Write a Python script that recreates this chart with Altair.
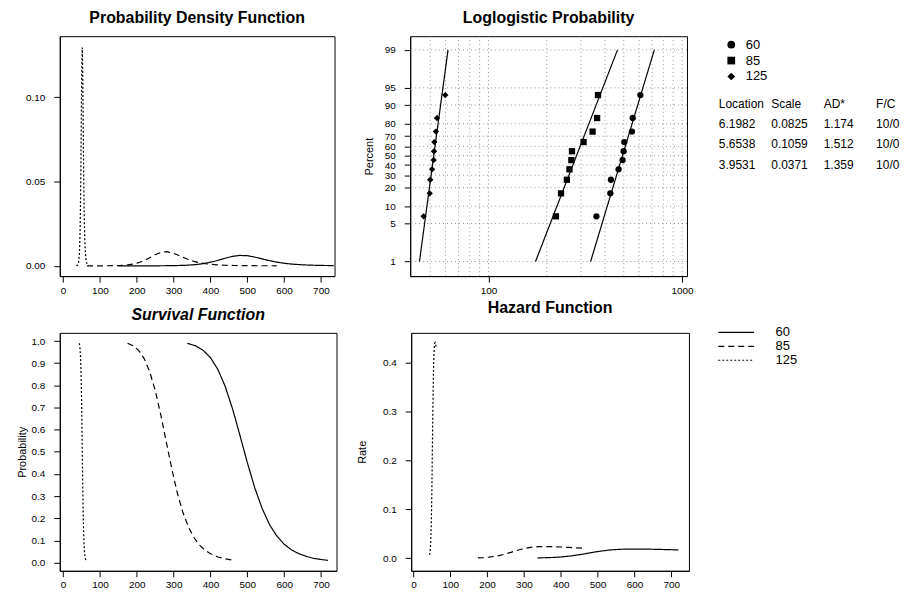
import math
import altair as alt
import pandas as pd

FONT = "Liberation Sans"
groups = ["60", "85", "125"]

# ---------------- Probability density function ----------------
pdf60_x = [150, 200, 250, 300, 337, 360, 380, 400, 420, 440, 460, 480, 500, 520, 540, 560, 580, 600, 620, 640, 660, 680, 700, 735]
pdf60_y = [0, 0, 0, 0.0001, 0.00036, 0.00073, 0.00128, 0.00211, 0.00322, 0.00449, 0.00560, 0.00617, 0.00600, 0.00522,
           0.00415, 0.00309, 0.00220, 0.00153, 0.00105, 0.00072, 0.00049, 0.00034, 0.00023, 0.00013]
pdf85_x = [65, 100, 150, 175, 190, 205, 220, 235, 250, 265, 280, 295, 310, 325, 340, 355, 370, 385, 400, 420, 440, 464, 500, 540, 580]
pdf85_y = [0, 0, 0.00014, 0.00052, 0.00102, 0.00186, 0.00312, 0.00477, 0.00654, 0.00790, 0.00836, 0.00781, 0.00656,
           0.00509, 0.00375, 0.00267, 0.00186, 0.00129, 0.00090, 0.00056, 0.00035, 0.00020, 0.00009, 0.00004, 0.00002]
pdf125_x = [36, 40, 42, 44, 45, 46, 47, 48, 49, 50, 51, 52, 53, 54, 55, 56, 57, 58, 59, 60, 62, 65, 70]
pdf125_y = [0, 0.0005, 0.0019, 0.0063, 0.0111, 0.0191, 0.0316, 0.0501, 0.0742, 0.1006, 0.1218, 0.1295, 0.1206, 0.0997,
            0.0749, 0.0526, 0.0354, 0.0232, 0.0149, 0.0096, 0.0039, 0.0011, 0.0001]

# ---------------- Survival function ----------------
surv60_x = [337, 360, 380, 400, 420, 440, 460, 480, 500, 520, 540, 560, 580, 600, 620, 640, 660, 680, 700, 719]
surv60_y = [0.990, 0.978, 0.958, 0.925, 0.872, 0.795, 0.693, 0.574, 0.451, 0.338, 0.245, 0.172, 0.120, 0.083, 0.057,
            0.040, 0.028, 0.019, 0.014, 0.010]
surv85_x = [175, 190, 205, 220, 235, 250, 265, 280, 295, 310, 325, 340, 355, 370, 385, 400, 420, 440, 464]
surv85_y = [0.990, 0.979, 0.958, 0.921, 0.862, 0.777, 0.668, 0.545, 0.423, 0.314, 0.227, 0.161, 0.113, 0.079, 0.056,
            0.040, 0.025, 0.017, 0.010]
surv125_x = [44, 45, 46, 47, 48, 49, 50, 51, 52, 53, 54, 55, 56, 57, 58, 59, 60, 61.8]
surv125_y = [0.990, 0.981, 0.966, 0.941, 0.901, 0.839, 0.752, 0.640, 0.513, 0.387, 0.276, 0.188, 0.125, 0.081, 0.053,
             0.034, 0.022, 0.010]

# ---------------- Hazard function ----------------
haz60_y = [0.0004, 0.0008, 0.0013, 0.0023, 0.0037, 0.0057, 0.0081, 0.0108, 0.0133, 0.0154, 0.0170, 0.0179, 0.0184,
           0.0185, 0.0184, 0.0182, 0.0179, 0.0175, 0.0171, 0.0167]
haz85_y = [0.0005, 0.0010, 0.0019, 0.0034, 0.0055, 0.0084, 0.0118, 0.0154, 0.0185, 0.0209, 0.0225, 0.0233, 0.0236,
           0.0235, 0.0232, 0.0227, 0.0219, 0.0211, 0.0201]
haz125_y = [0.0064, 0.0113, 0.0197, 0.0336, 0.0556, 0.0883, 0.1337, 0.1903, 0.2525, 0.3120, 0.3615, 0.3977, 0.4212,
            0.4344, 0.4403, 0.4414, 0.4394, 0.4318]

# ---------------- Loglogistic probability plot ----------------
rank_pct = [6.7, 16.3, 26.0, 35.6, 45.2, 54.8, 64.4, 74.0, 83.7, 93.3]
pts60 = [361, 426, 429, 470, 493, 499, 503, 551, 556, 609]
pts85 = [223, 237, 254, 262, 268, 270, 310, 345, 364, 368]
pts125 = [46.2, 49.7, 50.0, 51.1, 52.1, 52.3, 52.5, 53.5, 54.2, 59.8]
fit_pct = [1, 99]
fit60 = [337, 719]
fit85 = [175, 464]
fit125 = [44, 61.8]
pct_ticks = [1, 5, 10, 20, 30, 40, 50, 60, 70, 80, 90, 95, 99]
log_grid = [50, 60, 70, 80, 90, 100, 200, 300, 400, 500, 600, 700, 800, 900, 1000]

# ---------------- Table ----------------
table_cols = ["Location", "Scale", "AD*", "F/C"]
location = ["6.1982", "5.6538", "3.9531"]
scale_par = ["0.0825", "0.1059", "0.0371"]
ad_stat = ["1.174", "1.512", "1.359"]
fc = ["10/0", "10/0", "10/0"]


def logit(p):
    return math.log(p / (100.0 - p))


def long_df(xs, ys):
    rows = []
    for g, xv, yv in zip(groups, xs, ys):
        for a, b in zip(xv, yv):
            rows.append({"x": a, "y": b, "group": g})
    return pd.DataFrame(rows)


pdf_df = long_df([pdf60_x, pdf85_x, pdf125_x], [pdf60_y, pdf85_y, pdf125_y])
surv_df = long_df([surv60_x, surv85_x, surv125_x], [surv60_y, surv85_y, surv125_y])
haz_df = long_df([surv60_x, surv85_x, surv125_x], [haz60_y, haz85_y, haz125_y])

dash_scale = alt.Scale(domain=groups, range=[[1, 0], [6, 4], [2, 2]])
x_vals = list(range(0, 800, 100))
EXT = 27


def title(text, italic=False, offset=10):
    kw = dict(text=text, font=FONT, fontSize=16, fontWeight="bold", anchor="middle", offset=offset,
              color="black", frame="group")
    if italic:
        kw["fontStyle"] = "italic"
    return alt.Title(**kw)


def curve_panel(df, xdom, ydom, yvals, yfmt, ttl, ytitle, w, h, tpad, legend=None, italic=False, toff=10):
    yaxis = dict(values=yvals, format=yfmt, minExtent=EXT, maxExtent=EXT, labelOverlap=False)
    if ytitle:
        yaxis.update(title=ytitle, titlePadding=tpad)
    else:
        yaxis.update(title=None)
    return alt.Chart(df).mark_line(color="black", strokeWidth=1.2, clip=True).encode(
        x=alt.X("x:Q", scale=alt.Scale(domain=xdom, nice=False, zero=False),
                axis=alt.Axis(values=x_vals, format="d", title=None, labelOverlap=False)),
        y=alt.Y("y:Q", scale=alt.Scale(domain=ydom, nice=False, zero=False), axis=alt.Axis(**yaxis)),
        strokeDash=alt.StrokeDash("group:N", scale=dash_scale, legend=legend),
        order="x:Q",
    ).properties(width=w, height=h, title=title(ttl, italic, toff))


pdf_chart = curve_panel(pdf_df, [-9, 737], [-0.0061, 0.1362], [0, 0.05, 0.10], ".2f",
                        "Probability Density Function", None, 276, 241, 0)
surv_chart = curve_panel(surv_df, [-9, 742], [-0.037, 1.037], [i / 10 for i in range(11)], ".1f",
                         "Survival Function", "Probability", 278, 239, 5, italic=True, toff=10)
haz_legend = alt.Legend(orient="none", legendX=320, legendY=-7, title=None, symbolType="M-4,0H4",
                        symbolSize=81, symbolStrokeWidth=1.2, symbolStrokeColor="black",
                        labelFont=FONT, labelFontSize=13, labelColor="black", labelOffset=33,
                        rowPadding=0, padding=0)
haz_chart = curve_panel(haz_df, [-6, 748], [-0.026, 0.461], [0, 0.1, 0.2, 0.3, 0.4], ".1f",
                        "Hazard Function", "Rate", 279, 239, 17, legend=haz_legend, toff=10)

# ---------------- probability plot ----------------
pts_rows = []
for g, vals in zip(groups, [pts60, pts85, pts125]):
    for v, p in zip(vals, rank_pct):
        pts_rows.append({"x": v, "q": logit(p), "group": g})
pts_df = pd.DataFrame(pts_rows)
fit_rows = []
for g, vals in zip(groups, [fit60, fit85, fit125]):
    for v, p in zip(vals, fit_pct):
        fit_rows.append({"x": v, "q": logit(p), "group": g})
fit_df = pd.DataFrame(fit_rows)
vgrid_df = pd.DataFrame({"x": log_grid})
hgrid_df = pd.DataFrame({"q": [logit(p) for p in pct_ticks]})

xs_log = alt.Scale(type="log", domain=[39.4, 1060], nice=False)
ys_logit = alt.Scale(domain=[-5.23, 5.19], nice=False, zero=False)
x_enc = alt.X("x:Q", scale=xs_log, axis=alt.Axis(values=[100, 1000], format="d", title=None))
y_enc = alt.Y("q:Q", scale=ys_logit,
              axis=alt.Axis(values=[logit(p) for p in pct_ticks],
                            labelExpr="round(100/(1+exp(-datum.value)))", labelOverlap=False,
                            title="Percent", titlePadding=9, minExtent=EXT, maxExtent=EXT))

grid_style = dict(color="#7a7a7a", strokeWidth=0.8, strokeDash=[1, 3])
vgrid = alt.Chart(vgrid_df).mark_rule(**grid_style).encode(x=x_enc)
hgrid = alt.Chart(hgrid_df).mark_rule(**grid_style).encode(y=y_enc)
fits = alt.Chart(fit_df).mark_line(color="black", strokeWidth=1.2).encode(x=x_enc, y=y_enc, detail="group:N")
shape_legend = alt.Legend(orient="none", legendX=316, legendY=2, title=None, symbolSize=60,
                          symbolFillColor="black", symbolStrokeColor="black", labelFont=FONT,
                          labelFontSize=13, labelColor="black", labelOffset=8, rowPadding=1, padding=0)
points = alt.Chart(pts_df).mark_point(filled=True, color="black", opacity=1, size=40).encode(
    x=x_enc, y=y_enc,
    shape=alt.Shape("group:N", scale=alt.Scale(domain=groups, range=["circle", "square", "diamond"]),
                    legend=shape_legend),
)
prob_core = alt.layer(vgrid, hgrid, fits, points)

row_keys = ["h", "r1", "r2", "r3"]
tbl_rows = [{"col": c, "row": "h", "txt": c} for c in table_cols]
for i, vals in enumerate(zip(location, scale_par, ad_stat, fc)):
    for c, v in zip(table_cols, vals):
        tbl_rows.append({"col": c, "row": row_keys[i + 1], "txt": v})
table = alt.Chart(pd.DataFrame(tbl_rows)).mark_text(
    align="left", baseline="middle", font=FONT, fontSize=12, color="black"
).encode(
    x=alt.X("col:N", scale=alt.Scale(type="point", domain=table_cols, range=[310, 468], padding=0), axis=None),
    y=alt.Y("row:N", scale=alt.Scale(type="point", domain=row_keys, range=[68, 129], padding=0), axis=None),
    text="txt:N",
)
prob_chart = alt.layer(prob_core, table).resolve_scale(x="independent", y="independent").properties(
    width=278, height=241, title=title("Loglogistic Probability"))

row1 = alt.hconcat(pdf_chart, prob_chart, spacing=76, bounds="flush").resolve_scale(
    strokeDash="independent", shape="independent").resolve_legend(strokeDash="independent", shape="independent")
row2 = alt.hconcat(surv_chart, haz_chart, spacing=75, bounds="flush").resolve_scale(
    strokeDash="independent").resolve_legend(strokeDash="independent")

chart = alt.vconcat(row1, row2, spacing=3).resolve_scale(
    strokeDash="independent", shape="independent").resolve_legend(
    strokeDash="independent", shape="independent").properties(
    padding={"left": 8, "top": 0, "right": 0, "bottom": 0}, background="white"
).configure_view(stroke="black", strokeWidth=1).configure_axis(
    labelFont=FONT, labelFontSize=10, labelColor="black", tickColor="black", domainColor="black",
    tickSize=6, labelPadding=3, grid=False, titleFont=FONT, titleFontSize=11, titleFontWeight="normal",
    titleColor="black"
).configure_axisY(labelPadding=9)

chart.save("out.html", embed_options={"renderer": "svg", "actions": False})
